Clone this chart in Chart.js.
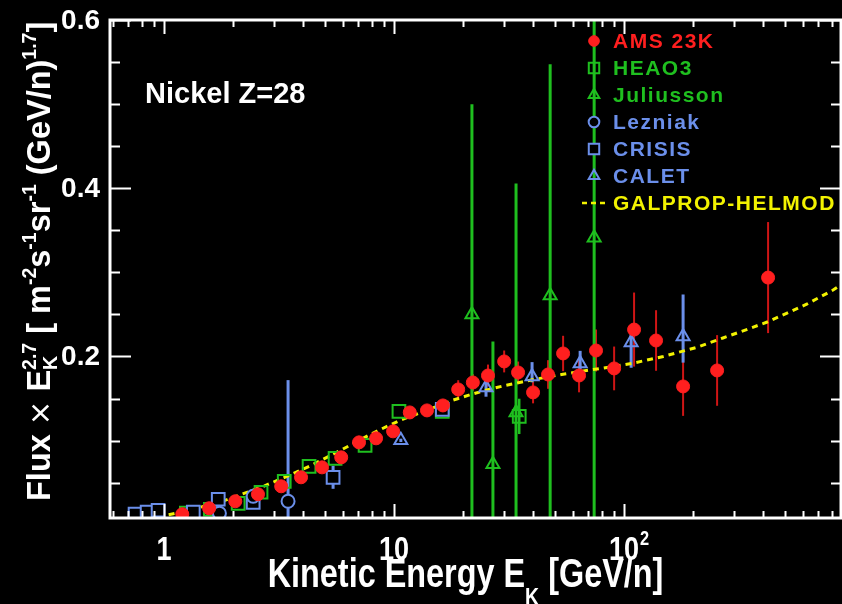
<!DOCTYPE html>
<html>
<head>
<meta charset="utf-8">
<script src="https://cdn.jsdelivr.net/npm/chart.js@4.4.1/dist/chart.umd.min.js"></script>
<style>
  html, body { margin: 0; padding: 0; background: #000; }
  #wrap { width: 842px; height: 604px; }
</style>
</head>
<body>
<div id="wrap"><canvas id="nickelChart" width="842" height="604"></canvas></div>
<script>
// axis ranges and tick marks
const xMin = 0.582, xMax = 877;
const yMin = 0.008, yMax = 0.6;
const yLabelTicks = [0.2, 0.4, 0.6];
const yMinorStep = 0.05;
const xLabelTicks = [1, 10, 100];
const xLabelText = ['1', '10', '10'];
const xLabelSup = ['', '', '2'];

// AMS 23K
const amsEnergy = [1.20, 1.57, 2.04, 2.56, 3.23, 3.94, 4.86, 5.89, 7.04, 8.35, 9.90, 11.7, 13.9, 16.3, 19.0,
                   22.0, 25.6, 30.1, 34.6, 40.2, 46.7, 54.3, 63.7, 75.5, 90.5, 110.5, 137.7, 180.5, 253.7, 422.7];
const amsFlux = [0.0125, 0.0196, 0.0279, 0.0362, 0.0457, 0.0564, 0.0682, 0.0801, 0.0979, 0.1027, 0.111, 0.1335, 0.1359, 0.1418, 0.1608,
                 0.1691, 0.1774, 0.1941, 0.181, 0.1573, 0.1786, 0.2036, 0.1774, 0.2071, 0.1858, 0.232, 0.219, 0.1644, 0.1834, 0.2938];
const amsErr = [0.002, 0.002, 0.002, 0.002, 0.003, 0.003, 0.003, 0.003, 0.004, 0.004, 0.004, 0.005, 0.005, 0.006, 0.011,
                0.010, 0.013, 0.013, 0.013, 0.013, 0.017, 0.021, 0.020, 0.025, 0.026, 0.044, 0.036, 0.035, 0.042, 0.066];

// HEAO3
const heaoEnergy = [1.25, 1.59, 2.10, 2.64, 3.33, 4.27, 5.54, 7.48, 10.5, 16.2, 35.0];
const heaoFlux = [0.0137, 0.0184, 0.0255, 0.0386, 0.0516, 0.0694, 0.0789, 0.0944, 0.1347, 0.1347, 0.1288];
const heaoErr = [0, 0, 0, 0, 0, 0, 0, 0, 0, 0.003, 0.021];

// Juliusson
const julEnergy = [21.8, 26.9, 33.9, 47.7, 74.1];
const julFlux = [0.2498, 0.0718, 0.1335, 0.2724, 0.3412];
const julErr = [0.250, 0.146, 0.272, 0.275, 0.35];

// Lezniak
const lezEnergy = [1.74, 2.44, 3.46];
const lezFlux = [0.0137, 0.0338, 0.0279];
const lezErr = [0, 0, 0.144];

// CRISIS
const crisisEnergy = [0.748, 0.844, 0.942, 1.34, 1.72, 2.44, 5.43, 16.2];
const crisisFlux = [0.0125, 0.0149, 0.0172, 0.0149, 0.0303, 0.0267, 0.0564, 0.1371];
const crisisErr = [0, 0, 0, 0, 0, 0, 0.0137, 0.006];

// CALET
const caletEnergy = [10.7, 25.1, 39.8, 64.4, 107.3, 180.5];
const caletFlux = [0.1003, 0.1632, 0.1763, 0.1917, 0.2166, 0.2237];
const caletErrLo = [0.002, 0.011, 0.007, 0.007, 0.030, 0.031];
const caletErrHi = [0.002, 0.007, 0.017, 0.015, 0.021, 0.050];

// GALPROP-HELMOD model
const galEnergy = [0.94, 1.12, 1.36, 1.84, 2.72, 3.29, 4.40, 5.27, 6.44, 7.71, 9.32, 10.8, 13.0, 18.0, 21.4, 24.4,
                   29.8, 37.9, 43.1, 54.3, 71.2, 84.4, 109, 148, 208, 269, 353, 419, 511, 625, 810, 887];
const galFlux = [0.009, 0.0135, 0.019, 0.029, 0.046, 0.0555, 0.071, 0.082, 0.0945, 0.106, 0.117, 0.125, 0.133, 0.148, 0.1545, 0.159,
                 0.165, 0.171, 0.174, 0.179, 0.184, 0.187, 0.192, 0.2, 0.211, 0.222, 0.2335, 0.241, 0.2515, 0.2625, 0.279, 0.286];

const RED = '#ff1f1f';
const GREEN = '#1fbf1f';
const BLUE = '#6b8fea';
const YELLOW = '#f2f200';

const pts = (xs, ys) => xs.map((x, i) => ({x: x, y: ys[i]}));

const errorBars = {
  id: 'errorBars',
  beforeDatasetsDraw(chart) {
    const {ctx, chartArea: a, scales: {x, y}} = chart;
    ctx.save();
    ctx.beginPath();
    ctx.rect(a.left, a.top, a.right - a.left, a.bottom - a.top);
    ctx.clip();
    chart.data.datasets.forEach(ds => {
      if (!ds.errHi) return;
      ctx.strokeStyle = ds.errColor;
      ctx.lineWidth = ds.errWidth;
      ds.data.forEach((p, i) => {
        if (!ds.errHi[i] && !ds.errLo[i]) return;
        const px = x.getPixelForValue(p.x);
        ctx.beginPath();
        ctx.moveTo(px, y.getPixelForValue(p.y + ds.errHi[i]));
        ctx.lineTo(px, y.getPixelForValue(p.y - ds.errLo[i]));
        ctx.stroke();
      });
    });
    ctx.restore();
  }
};

// text with super/subscripts: parts are [text, kind]
function richWidth(ctx, parts, size) {
  let w = 0;
  for (const p of parts) w += partWidth(ctx, p, size);
  return w;
}
function partWidth(ctx, p, size) {
  if (p.stack) {
    ctx.font = 'bold ' + (size * 0.6) + 'px "Liberation Sans", Arial, sans-serif';
    return Math.max(ctx.measureText(p.sub).width, ctx.measureText(p.sup).width);
  }
  ctx.font = fontFor(p[1], size);
  return ctx.measureText(p[0]).width;
}
function fontFor(kind, size) {
  if (kind === 'thin') return (size * 0.9) + 'px "DejaVu Sans", sans-serif';
  if (kind === 'sup' || kind === 'sub') return 'bold ' + (size * 0.6) + 'px "Liberation Sans", Arial, sans-serif';
  return 'bold ' + size + 'px "Liberation Sans", Arial, sans-serif';
}
function drawRich(ctx, parts, x, y, size) {
  let cx = x;
  ctx.textBaseline = 'alphabetic';
  ctx.textAlign = 'left';
  for (const p of parts) {
    if (p.stack) {
      ctx.font = fontFor('sup', size);
      ctx.fillText(p.sup, cx, y - size * 0.42);
      ctx.fillText(p.sub, cx, y + size * 0.22);
    } else {
      ctx.font = fontFor(p[1], size);
      let dy = 0;
      if (p[1] === 'sup') dy = -size * 0.42;
      if (p[1] === 'sub') dy = size * 0.45;
      ctx.fillText(p[0], cx, y + dy);
    }
    cx += partWidth(ctx, p, size);
  }
}

const frame = {
  id: 'frame',
  beforeDraw(chart) {
    const ctx = chart.ctx;
    ctx.save();
    ctx.fillStyle = '#000';
    ctx.fillRect(0, 0, chart.width, chart.height);
    ctx.restore();
  },
  afterDatasetsDraw(chart) {
    const {ctx, chartArea: a, scales: {x, y}} = chart;
    ctx.save();
    ctx.strokeStyle = '#fff';
    ctx.lineWidth = 2;
    // y ticks, both sides
    for (let v = yMinorStep; v <= yMax + 1e-9; v += yMinorStep) {
      const py = Math.round(y.getPixelForValue(v)) + 0.5;
      const major = yLabelTicks.some(t => Math.abs(t - v) < 1e-6);
      const len = major ? 21 : 10;
      ctx.beginPath();
      ctx.moveTo(a.left, py); ctx.lineTo(a.left + len, py);
      ctx.moveTo(a.right, py); ctx.lineTo(a.right - len, py);
      ctx.stroke();
    }
    // x ticks, top and bottom
    for (let d = 0.1; d < xMax; d *= 10) {
      for (let k = 1; k <= 9; k++) {
        const v = d * k;
        if (v < xMin || v > xMax) continue;
        const px = Math.round(x.getPixelForValue(v)) + 0.5;
        const len = k === 1 ? 14 : 7;
        ctx.beginPath();
        ctx.moveTo(px, a.bottom); ctx.lineTo(px, a.bottom - len);
        ctx.moveTo(px, a.top); ctx.lineTo(px, a.top + len);
        ctx.stroke();
      }
    }
    ctx.lineWidth = 3;
    ctx.strokeRect(a.left, a.top, a.right - a.left, a.bottom - a.top);
    ctx.restore();
  },
  afterDraw(chart) {
    const {ctx, chartArea: a, scales: {x, y}} = chart;
    ctx.save();
    ctx.fillStyle = '#fff';

    // y tick labels
    ctx.font = 'bold 28px "Liberation Sans", Arial, sans-serif';
    ctx.textAlign = 'right';
    ctx.textBaseline = 'middle';
    yLabelTicks.forEach(v => ctx.fillText(v.toFixed(1), 100, y.getPixelForValue(v) + 1));

    // x tick labels, narrow lettering
    xLabelTicks.forEach((v, i) => {
      const px = x.getPixelForValue(v);
      ctx.save();
      ctx.translate(px, 560);
      ctx.scale(0.82, 1);
      ctx.font = 'bold 33px "Liberation Sans", Arial, sans-serif';
      ctx.textAlign = 'center';
      ctx.textBaseline = 'alphabetic';
      ctx.fillText(xLabelText[i], 0, 0);
      if (xLabelSup[i]) {
        const w = ctx.measureText(xLabelText[i]).width;
        ctx.font = 'bold 20px "Liberation Sans", Arial, sans-serif';
        ctx.textAlign = 'left';
        ctx.fillText(xLabelSup[i], w / 2 + 1, -15);
      }
      ctx.restore();
    });

    // x axis title
    const xParts = [['Kinetic Energy E', 'b'], ['K', 'sub'], [' [GeV/n]', 'b']];
    ctx.save();
    const xs = 40;
    const xw = richWidth(ctx, xParts, xs) * 0.81;
    ctx.translate((a.left + a.right) / 2 - xw / 2 - 10, 587);
    ctx.scale(0.81, 1);
    drawRich(ctx, xParts, 0, 0, xs);
    ctx.restore();

    // y axis title
    const yParts = [['Flux ', 'b'], ['\u00d7', 'thin'], [' E', 'b'], {stack: true, sub: 'K', sup: '2.7'},
      [' [ m', 'b'], ['-2', 'sup'], ['s', 'b'], ['-1', 'sup'], ['sr', 'b'], ['-1', 'sup'],
      [' (GeV/n)', 'b'], ['1.7', 'sup'], [']', 'b']];
    ctx.save();
    ctx.translate(50, 501);
    ctx.rotate(-Math.PI / 2);
    drawRich(ctx, yParts, 0, 0, 32.5);
    ctx.restore();

    // element label
    ctx.font = 'bold 29px "Liberation Sans", Arial, sans-serif';
    ctx.textAlign = 'left';
    ctx.textBaseline = 'alphabetic';
    ctx.fillText('Nickel Z=28', 145, 103);

    // legend
    const lx = 594, tx = 613, ly = 41, step = 27;
    chart.data.datasets.forEach((ds, i) => {
      const cy = ly + i * step;
      if (ds.showLine) {
        ctx.strokeStyle = ds.borderColor;
        ctx.lineWidth = 2.5;
        ctx.setLineDash([5, 4]);
        ctx.beginPath();
        ctx.moveTo(582, cy); ctx.lineTo(608, cy);
        ctx.stroke();
        ctx.setLineDash([]);
      } else {
        ctx.fillStyle = ds.backgroundColor;
        ctx.strokeStyle = ds.borderColor;
        ctx.lineWidth = ds.borderWidth;
        Chart.helpers.drawPoint(ctx, {pointStyle: ds.pointStyle, radius: ds.pointRadius * 0.82, borderWidth: ds.borderWidth, rotation: 0}, lx, cy);
      }
      ctx.fillStyle = ds.textColor;
      ctx.font = 'bold 21px "Liberation Sans", Arial, sans-serif';
      ctx.letterSpacing = '1.5px';
      ctx.textAlign = 'left';
      ctx.textBaseline = 'middle';
      ctx.fillText(ds.label, tx, cy + 1);
      ctx.letterSpacing = '0px';
    });
    ctx.restore();
  }
};

const chart = new Chart(document.getElementById('nickelChart'), {
  type: 'scatter',
  data: {
    datasets: [
      {label: 'AMS 23K', data: pts(amsEnergy, amsFlux), pointStyle: 'circle', pointRadius: 6.5,
       backgroundColor: RED, borderColor: RED, borderWidth: 1, textColor: RED,
       errLo: amsErr, errHi: amsErr, errColor: '#d01515', errWidth: 2, order: 0},
      {label: 'HEAO3', data: pts(heaoEnergy, heaoFlux), pointStyle: 'rect', pointRadius: 9,
       backgroundColor: 'rgba(0,0,0,0)', borderColor: GREEN, borderWidth: 2, textColor: GREEN,
       errLo: heaoErr, errHi: heaoErr, errColor: GREEN, errWidth: 2.5, order: 3},
      {label: 'Juliusson', data: pts(julEnergy, julFlux), pointStyle: 'triangle', pointRadius: 7.5,
       backgroundColor: 'rgba(0,0,0,0)', borderColor: GREEN, borderWidth: 2, textColor: GREEN,
       errLo: julErr, errHi: julErr, errColor: GREEN, errWidth: 3, order: 4},
      {label: 'Lezniak', data: pts(lezEnergy, lezFlux), pointStyle: 'circle', pointRadius: 6.5,
       backgroundColor: '#000', borderColor: BLUE, borderWidth: 2, textColor: BLUE,
       errLo: lezErr, errHi: lezErr, errColor: BLUE, errWidth: 3, order: 2},
      {label: 'CRISIS', data: pts(crisisEnergy, crisisFlux), pointStyle: 'rect', pointRadius: 9,
       backgroundColor: '#000', borderColor: BLUE, borderWidth: 2, textColor: BLUE,
       errLo: crisisErr, errHi: crisisErr, errColor: BLUE, errWidth: 3, order: 2},
      {label: 'CALET', data: pts(caletEnergy, caletFlux), pointStyle: 'triangle', pointRadius: 7.5,
       backgroundColor: 'rgba(0,0,0,0)', borderColor: BLUE, borderWidth: 2, textColor: BLUE,
       errLo: caletErrLo, errHi: caletErrHi, errColor: BLUE, errWidth: 3, order: 1},
      {label: 'GALPROP-HELMOD', data: pts(galEnergy, galFlux), showLine: true, pointRadius: 0,
       borderColor: YELLOW, borderWidth: 3, borderDash: [6, 5], textColor: YELLOW, order: 10}
    ]
  },
  options: {
    responsive: false,
    animation: false,
    devicePixelRatio: 1,
    layout: {autoPadding: false, padding: {left: 110, top: 20, right: 1, bottom: 86}},
    scales: {
      x: {type: 'logarithmic', min: xMin, max: xMax, display: false},
      y: {type: 'linear', min: yMin, max: yMax, display: false}
    },
    plugins: {legend: {display: false}, tooltip: {enabled: false}}
  },
  plugins: [errorBars, frame]
});
</script>
</body>
</html>
